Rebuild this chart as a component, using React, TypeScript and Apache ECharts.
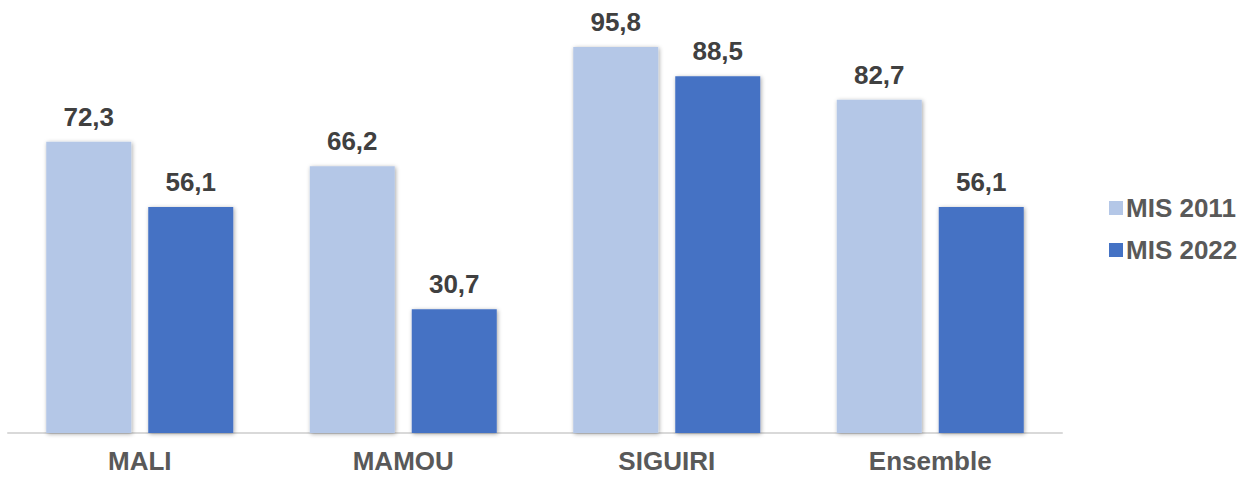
import React, { useEffect, useRef } from "react";
import * as echarts from "echarts";

const categories = ["MALI", "MAMOU", "SIGUIRI", "Ensemble"];
const mis2011 = [72.3, 66.2, 95.8, 82.7];
const mis2022 = [56.1, 30.7, 88.5, 56.1];
const seriesNames = ["MIS 2011", "MIS 2022"];

const fmt = (v: number) => v.toFixed(1).replace(".", ",");

export default function App() {
  const ref = useRef<HTMLDivElement>(null);
  useEffect(() => {
    if (!ref.current) return;
    const chart = echarts.init(ref.current, null, { renderer: "svg" });
    const font = "'Liberation Sans', Arial, sans-serif";
    const shadow = {
      shadowBlur: 4,
      shadowColor: "rgba(0,0,0,0.35)",
      shadowOffsetX: 1,
      shadowOffsetY: 1,
    };
    const label = {
      show: true,
      position: "top",
      distance: 12,
      fontFamily: font,
      fontWeight: "bold",
      fontSize: 26,
      color: "#404040",
      formatter: (p: any) => fmt(p.value),
    };
    chart.setOption({
      animation: false,
      backgroundColor: "#ffffff",
      grid: { left: 8, right: 186, top: 30, bottom: 44, containLabel: false },
      legend: {
        orient: "vertical",
        left: 1104,
        top: 190,
        itemWidth: 14,
        itemHeight: 14,
        itemGap: 16,
        icon: "rect",
        textStyle: {
          fontFamily: font,
          fontWeight: "bold",
          fontSize: 26,
          color: "#595959",
          padding: [0, 0, 0, -2],
        },
        data: seriesNames,
      },
      xAxis: {
        type: "category",
        data: categories,
        axisLine: { lineStyle: { color: "#d9d9d9", width: 2 } },
        axisTick: { show: false },
        axisLabel: {
          margin: 15,
          fontFamily: font,
          fontWeight: "bold",
          fontSize: 26,
          color: "#595959",
        },
      },
      yAxis: {
        type: "value",
        min: 0,
        max: 100,
        show: false,
        splitLine: { show: false },
      },
      series: [
        {
          name: seriesNames[0],
          type: "bar",
          data: mis2011,
          barWidth: 85,
          barGap: "20%",
          itemStyle: { color: "#B4C7E7", ...shadow },
          label,
        },
        {
          name: seriesNames[1],
          type: "bar",
          data: mis2022,
          barWidth: 85,
          barGap: "20%",
          itemStyle: { color: "#4472C4", ...shadow },
          label,
        },
      ],
    });
    return () => chart.dispose();
  }, []);
  return (
    <div
      ref={ref}
      style={{ position: "fixed", left: 0, top: 0, width: 1248, height: 477 }}
    />
  );
}
